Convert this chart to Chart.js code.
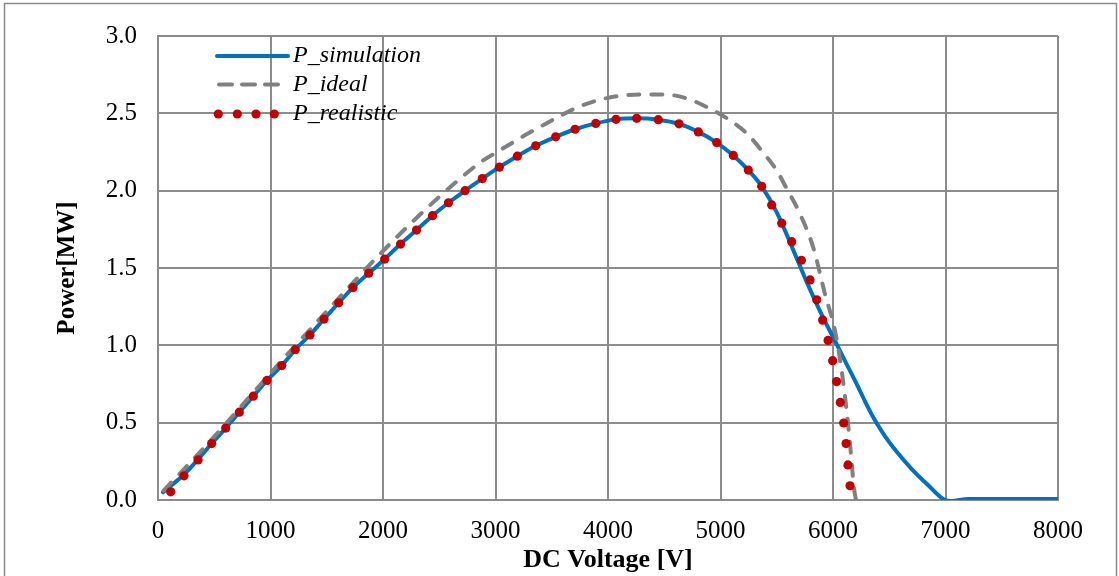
<!DOCTYPE html>
<html>
<head>
<meta charset="utf-8">
<style>
  html, body { margin: 0; padding: 0; background: #ffffff; }
  #wrap { width: 1119px; height: 576px; position: relative; }
</style>
<script src="https://cdn.jsdelivr.net/npm/chart.js@4.4.1/dist/chart.umd.min.js"></script>
</head>
<body>
<div id="wrap"><canvas id="chart" width="1119" height="576"></canvas></div>
<script>
// Simulated P-V curve (DC voltage in V, power in MW)
const simVoltage = [45, 231, 356, 477, 602, 723, 847, 969, 1100, 1220, 1351, 1476, 1606, 1733, 1873, 2015,
  2156, 2298, 2440, 2582, 2729, 2883, 3034, 3194, 3357, 3535, 3707, 3891, 4071, 4255, 4447, 4631, 4803,
  4966, 5114, 5247, 5366, 5500, 5633, 5766, 5908, 6038, 6120, 6210, 6290, 6373, 6460, 6563, 6700, 6847,
  6996, 7050, 7200, 8000];
const simPower = [0.05, 0.165, 0.262, 0.365, 0.465, 0.568, 0.671, 0.773, 0.869, 0.972, 1.067, 1.170, 1.275,
  1.373, 1.466, 1.558, 1.655, 1.745, 1.838, 1.922, 2.000, 2.078, 2.152, 2.223, 2.290, 2.348, 2.397, 2.435,
  2.461, 2.468, 2.459, 2.432, 2.380, 2.311, 2.228, 2.133, 2.028, 1.860, 1.640, 1.410, 1.185, 1.000, 0.880,
  0.751, 0.630, 0.515, 0.415, 0.315, 0.200, 0.095, 0.000, -0.006, 0.006, 0.006];

// Ideal model
const idealVoltage = [50, 500, 1000, 1500, 2000, 2500, 2877, 2996, 3144, 3292, 3455, 3588, 3781, 4047, 4284,
  4492, 4699, 4907, 5084, 5233, 5381, 5500, 5591, 5700, 5825, 5929, 6018, 6077, 6121, 6151, 6189, 6205];
const idealPower = [0.06, 0.41, 0.82, 1.22, 1.61, 1.96, 2.189, 2.242, 2.307, 2.371, 2.436, 2.489, 2.554, 2.607,
  2.622, 2.622, 2.597, 2.530, 2.455, 2.370, 2.245, 2.130, 2.010, 1.860, 1.631, 1.331, 1.094, 0.837, 0.579,
  0.365, 0.064, 0.000];

// Realistic model (discrete operating points)
const realVoltage = [113, 231, 356, 477, 602, 723, 847, 969, 1100, 1220, 1351, 1476, 1606, 1733, 1873, 2015,
  2156, 2298, 2440, 2582, 2729, 2883, 3034, 3194, 3357, 3535, 3707, 3891, 4071, 4255, 4447, 4631, 4803,
  4966, 5114, 5247, 5366, 5455, 5544, 5633, 5719, 5796, 5855, 5908, 5956, 5997, 6032, 6065, 6095, 6116,
  6133, 6151, 6165];
const realPower = [0.053, 0.156, 0.259, 0.365, 0.465, 0.568, 0.671, 0.773, 0.869, 0.972, 1.067, 1.170, 1.275,
  1.373, 1.466, 1.558, 1.655, 1.745, 1.838, 1.922, 2.000, 2.078, 2.152, 2.223, 2.290, 2.348, 2.397, 2.435,
  2.461, 2.468, 2.459, 2.432, 2.380, 2.311, 2.228, 2.133, 2.028, 1.908, 1.790, 1.670, 1.550, 1.423, 1.294,
  1.163, 1.032, 0.901, 0.766, 0.631, 0.498, 0.365, 0.227, 0.092, -0.040];

const seriesNames = ['P_simulation', 'P_ideal', 'P_realistic'];
const xTitle = 'DC Voltage [V]';
const yTitle = 'Power[MW]';

const pairs = (xs, ys) => xs.map((x, i) => ({ x: x, y: ys[i] }));

const SERIF = "'Liberation Serif', 'Times New Roman', serif";
const GRID = '#8c8c8c';

// Thin grey frame around the whole figure
const frame = {
  id: 'frame',
  beforeDraw(chart) {
    const c = chart.ctx;
    c.save();
    c.fillStyle = '#ffffff';
    c.fillRect(0, 0, chart.width, chart.height);
    c.strokeStyle = '#8a8a8a';
    c.lineWidth = 1.5;
    c.strokeRect(4.5, 3.5, 1112, 640);
    c.restore();
  }
};

// Legend drawn inside the plot area, upper left
const insideLegend = {
  id: 'insideLegend',
  afterDraw(chart) {
    const c = chart.ctx;
    const ds = chart.data.datasets;
    const x0 = 217, x1 = 288, tx = 293;
    const rows = [56, 84.5, 114];
    c.save();
    c.lineCap = 'round';
    // solid
    c.strokeStyle = ds[0].borderColor;
    c.lineWidth = 4;
    c.beginPath(); c.moveTo(x0, rows[0]); c.lineTo(x1, rows[0]); c.stroke();
    // dashed
    c.strokeStyle = ds[1].borderColor;
    c.setLineDash([13, 10]);
    c.beginPath(); c.moveTo(x0 + 2, rows[1]); c.lineTo(x1 - 6, rows[1]); c.stroke();
    c.setLineDash([]);
    // dotted
    c.fillStyle = ds[2].backgroundColor;
    [218.3, 237.3, 256, 274.3].forEach(px => {
      c.beginPath(); c.arc(px, rows[2], 4.6, 0, Math.PI * 2); c.fill();
    });
    c.fillStyle = '#000000';
    c.font = 'italic 24px ' + SERIF;
    c.textBaseline = 'middle';
    c.textAlign = 'left';
    seriesNames.forEach((n, i) => c.fillText(n, tx, rows[i]));
    c.restore();
  }
};

new Chart(document.getElementById('chart'), {
  type: 'line',
  data: {
    datasets: [
      {
        label: seriesNames[0],
        data: pairs(simVoltage, simPower),
        borderColor: '#0070C0',
        backgroundColor: '#0070C0',
        borderWidth: 4,
        pointRadius: 0,
        cubicInterpolationMode: 'monotone',
        borderCapStyle: 'round',
        borderJoinStyle: 'round',
        order: 3
      },
      {
        label: seriesNames[1],
        data: pairs(idealVoltage, idealPower),
        borderColor: '#808080',
        backgroundColor: '#808080',
        borderWidth: 4,
        borderDash: [11, 12],
        borderCapStyle: 'round',
        pointRadius: 0,
        cubicInterpolationMode: 'monotone',
        order: 2
      },
      {
        label: seriesNames[2],
        data: pairs(realVoltage, realPower),
        showLine: false,
        borderColor: '#C00000',
        backgroundColor: '#C00000',
        pointRadius: 4.6,
        pointBorderWidth: 0,
        order: 1
      }
    ]
  },
  options: {
    responsive: false,
    animation: false,
    devicePixelRatio: 1,
    layout: { padding: { left: 0, top: 34, right: 61, bottom: 0 } },
    plugins: { legend: { display: false }, tooltip: { enabled: false } },
    scales: {
      x: {
        type: 'linear',
        min: 0,
        max: 8000,
        ticks: {
          stepSize: 1000,
          maxRotation: 0,
          padding: 16,
          color: '#000000',
          font: { family: SERIF, size: 25 },
          callback: v => String(v)
        },
        grid: { color: GRID, lineWidth: 2, drawTicks: false },
        border: { color: GRID, width: 2 },
        title: {
          display: true,
          text: xTitle,
          color: '#000000',
          font: { family: SERIF, size: 26, weight: 'bold', lineHeight: 1 },
          padding: { top: 0, bottom: 3 }
        },
        afterFit(scale) { scale.height = 76; }
      },
      y: {
        min: 0,
        max: 3,
        ticks: {
          stepSize: 0.5,
          padding: 21,
          color: '#000000',
          font: { family: SERIF, size: 25 },
          callback: v => Number(v).toFixed(1)
        },
        grid: { color: GRID, lineWidth: 2, drawTicks: false },
        border: { color: GRID, width: 2 },
        title: {
          display: true,
          text: yTitle,
          color: '#000000',
          font: { family: SERIF, size: 25, weight: 'bold', lineHeight: 1 },
          padding: { top: 55, bottom: 0 }
        },
        afterFit(scale) { scale.width = 158; }
      }
    }
  },
  plugins: [frame, insideLegend]
});
</script>
</body>
</html>
